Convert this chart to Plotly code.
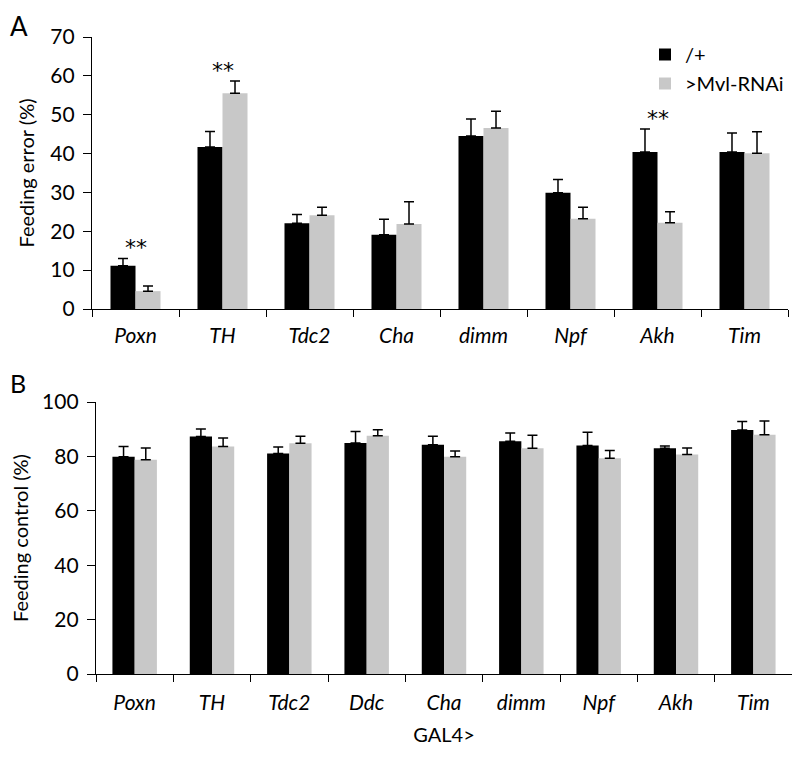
import plotly.graph_objects as go

# ---- Panel A data ----
genes_a = ["Poxn", "TH", "Tdc2", "Cha", "dimm", "Npf", "Akh", "Tim"]
ctrl_a = [11.1, 41.7, 22.1, 19.1, 44.5, 29.9, 40.4, 40.4]
ctrl_a_err = [1.9, 4.0, 2.2, 4.0, 4.4, 3.4, 5.9, 4.9]
rnai_a = [4.6, 55.5, 24.1, 21.9, 46.6, 23.2, 22.2, 40.1]
rnai_a_err = [1.3, 3.2, 2.1, 5.7, 4.3, 3.0, 2.8, 5.5]
signif_a = ["Poxn", "TH", "Akh"]

# ---- Panel B data ----
genes_b = ["Poxn", "TH", "Tdc2", "Ddc", "Cha", "dimm", "Npf", "Akh", "Tim"]
ctrl_b = [79.9, 87.3, 81.1, 84.9, 84.3, 85.6, 84.0, 83.0, 89.7]
ctrl_b_err = [3.7, 2.8, 2.4, 4.3, 3.1, 3.0, 4.9, 0.8, 3.1]
rnai_b = [78.8, 83.6, 84.8, 87.6, 79.9, 83.0, 79.3, 80.7, 88.0]
rnai_b_err = [4.3, 3.2, 2.6, 2.2, 2.1, 4.8, 2.9, 2.4, 5.0]

series_names = ["/+", ">Mvl-RNAi"]
BLACK = "#000000"
GRAY = "#C8C8C8"
FONT = "Lato"

# page body has an 8px margin: figure coords = screen coords - 8
OFF = 8
W, H = 784, 741


def px_x(p):
    return (p - OFF) / W


def px_y(p):
    return 1 - (p - OFF) / H


def err(arr):
    return dict(type="data", array=arr, arrayminus=[0] * len(arr), symmetric=False,
                color="black", thickness=1.5, width=5)


fig = go.Figure()
fig.add_trace(go.Bar(x=genes_a, y=ctrl_a, name=series_names[0], marker_color=BLACK,
                     error_y=err(ctrl_a_err), xaxis="x", yaxis="y"))
fig.add_trace(go.Bar(x=genes_a, y=rnai_a, name=series_names[1], marker_color=GRAY,
                     error_y=err(rnai_a_err), xaxis="x", yaxis="y"))
fig.add_trace(go.Bar(x=genes_b, y=ctrl_b, name=series_names[0], marker_color=BLACK,
                     error_y=err(ctrl_b_err), xaxis="x2", yaxis="y2", showlegend=False))
fig.add_trace(go.Bar(x=genes_b, y=rnai_b, name=series_names[1], marker_color=GRAY,
                     error_y=err(rnai_b_err), xaxis="x2", yaxis="y2", showlegend=False))

for tr in fig.data:
    tr.marker.line.width = 0

xcommon = dict(type="category", showline=True, linecolor="black", linewidth=1.3,
               ticks="outside", ticklen=7, tickwidth=1.3, tickcolor="black",
               tickson="boundaries", showgrid=False, zeroline=False,
               tickfont=dict(family=FONT, size=21, color="black", style="italic"),
               automargin=False, fixedrange=True)
ycommon = dict(showline=True, linecolor="black", linewidth=1.3, ticks="outside",
               ticklen=8, tickwidth=1.3, tickcolor="black", showgrid=False,
               zeroline=False, tickfont=dict(family=FONT, size=21, color="black"),
               automargin=False, ticklabelstandoff=4)

fig.update_layout(
    width=W, height=H,
    margin=dict(l=0, r=0, t=0, b=0),
    paper_bgcolor="white", plot_bgcolor="white",
    barmode="group", bargap=0.425, bargroupgap=0,
    font=dict(family=FONT, color="black"),
    xaxis=dict(xcommon, domain=[px_x(92), px_x(788)], anchor="y", ticklabelstandoff=8),
    yaxis=dict(ycommon, domain=[px_y(309), px_y(37)], anchor="x", range=[0, 70], dtick=10,
               title=dict(text="Feeding error (%)", font=dict(family=FONT, size=20), standoff=10)),
    xaxis2=dict(xcommon, domain=[px_x(96), px_x(792)], anchor="y2", ticklabelstandoff=10,
                title=dict(text="GAL4>", font=dict(family=FONT, size=20), standoff=14)),
    yaxis2=dict(ycommon, domain=[px_y(674), px_y(402)], anchor="x2", range=[0, 100], dtick=20,
                title=dict(text="Feeding control (%)", font=dict(family=FONT, size=20), standoff=10)),
    legend=dict(x=px_x(645), y=px_y(35), xanchor="left", yanchor="top",
                font=dict(family=FONT, size=20, color="black"), itemwidth=30,
                bgcolor="rgba(0,0,0,0)", tracegroupgap=0),
    showlegend=True,
)

# significance stars
for g in signif_a:
    i = genes_a.index(g)
    top = max(ctrl_a[i] + ctrl_a_err[i], rnai_a[i] + rnai_a_err[i])
    fig.add_annotation(x=g, y=top, xref="x", yref="y", text="**", showarrow=False,
                       yanchor="bottom", yshift=-4,
                       font=dict(family="DejaVu Sans", size=22, color="black"))

# panel letters
fig.add_annotation(x=0, y=1, xref="paper", yref="paper", text="A", showarrow=False,
                   xanchor="left", yanchor="top", font=dict(family=FONT, size=26, color="black"))
fig.add_annotation(x=0, y=px_y(366), xref="paper", yref="paper", text="B", showarrow=False,
                   xanchor="left", yanchor="top", font=dict(family=FONT, size=25, color="black"))

fig.write_html("out.html")
